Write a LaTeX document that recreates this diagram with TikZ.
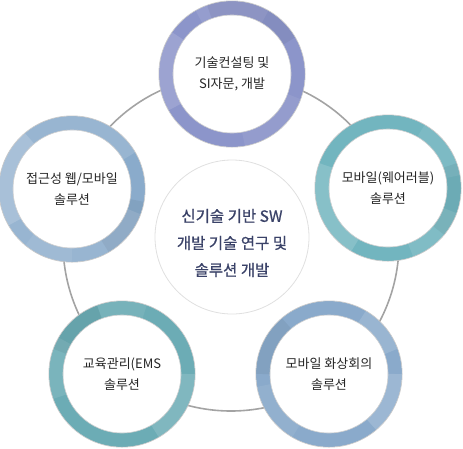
\documentclass[tikz,border=0pt]{standalone}
\usepackage{fontspec}
\setmainfont{Noto Sans CJK KR}
\newfontfamily\corefont[FakeBold=0.7]{Noto Sans CJK KR}
\usepackage{tikz}
\definecolor{violetring}{HTML}{8C95CA}
\definecolor{tealring}{HTML}{72B5BF}
\definecolor{steelring}{HTML}{8AABCB}
\definecolor{coretextcol}{HTML}{3A4268}
\definecolor{linkgray}{HTML}{A3A3A3}

\begin{document}
\begin{tikzpicture}[x=1pt,y=-1pt,
    ring/.style={circle, draw=#1, line width=14pt, minimum size=132pt, inner sep=0pt,
      fill=white, align=center, text=black!85, font=\fontsize{13}{21}\selectfont},
    core/.style={circle, draw=black!12, line width=0.8pt, minimum size=154pt, fill=white},
    coretext/.style={align=center, text=coretextcol, font=\corefont\fontsize{15.5}{27}\selectfont}]
  \useasboundingbox (0,0) rectangle (463,448);
  \draw[linkgray, line width=1.6pt] (231,243) circle (168);
  \node[core] (core) at (232,237) {};
  \node[coretext] (coretxt) at (232,243) {신기술 기반 SW\\개발 기술 연구 및\\솔루션 개발};
  \node[ring=violetring] (consult) at (232,74) {기술컨설팅 및\\SI자문, 개발};
  \node[ring=tealring] (wearable) at (388,188) {모바일(웨어러블)\\솔루션};
  \node[ring=steelring] (access) at (72,189) {접근성 웹/모바일\\솔루션};
  \node[ring=tealring!95!black] (ems) at (122,374) {교육관리(EMS\\솔루션};
  \node[ring=steelring!95!violetring] (video) at (329,374) {모바일 화상회의\\솔루션};
  \foreach \n/\a/\b/\o in {consult/150/215/.14, consult/240/300/.08, consult/20/80/.07,
      wearable/120/200/.15, wearable/300/350/.08, wearable/20/70/.1,
      access/150/230/.16, access/330/20/.12, access/90/130/.07,
      ems/0/60/.14, ems/160/210/.1, ems/250/290/.08,
      video/300/340/.13, video/0/50/.16, video/120/170/.07}
    \draw[white, opacity=\o, line width=14pt] (\n.center) ++(\a:66) arc[start angle=\a, end angle=\b, radius=66];
  \foreach \n/\a/\b in {consult/250/330, wearable/340/400, access/10/60, ems/200/250, video/180/230}
    \draw[black, opacity=.05, line width=14pt] (\n.center) ++(\a:66) arc[start angle=\a, end angle=\b, radius=66];
  \foreach \n in {consult, wearable, access, ems, video} {
    \draw[black!22, line width=.6pt] (\n.center) circle (73.2);
    \draw[black!18, line width=.6pt] (\n.center) circle (59);
  }
\end{tikzpicture}
\end{document}
